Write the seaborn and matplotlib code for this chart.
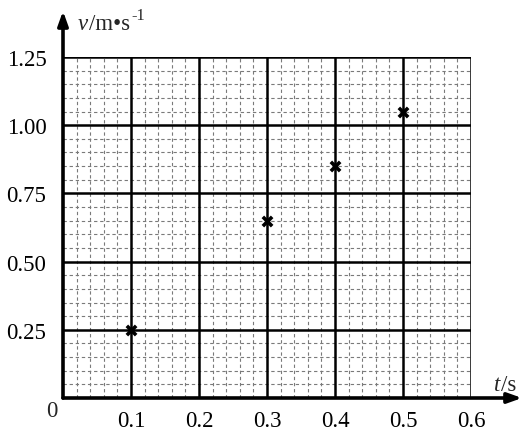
import matplotlib
matplotlib.use("Agg")
import matplotlib.pyplot as plt
import seaborn as sns
import numpy as np
import pandas as pd

t_values = [0.1, 0.3, 0.4, 0.5]
v_values = [0.25, 0.65, 0.85, 1.05]
x_ticks = [0.1, 0.2, 0.3, 0.4, 0.5, 0.6]
y_ticks = [0.25, 0.50, 0.75, 1.00, 1.25]
x_tick_labels = ["0.1", "0.2", "0.3", "0.4", "0.5", "0.6"]
y_tick_labels = ["0.25", "0.50", "0.75", "1.00", "1.25"]

sns.set_theme(style="white")
plt.rcParams['font.family'] = ['Liberation Serif', 'DejaVu Serif']

FS = 16.5
W, H = 527, 431
fig = plt.figure(figsize=(W / 100, H / 100), dpi=100)
x0, x1, y0, y1 = 63, 471, 58, 399
ax = fig.add_axes([x0 / W, (H - y1) / H, (x1 - x0) / W, (y1 - y0) / H])

xmax, ymax = 0.6, 1.25
ax.set_xlim(0, xmax)
ax.set_ylim(0, ymax)

# minor grid (dashed)
for i in range(1, 30):
    if i % 5 != 0:
        ax.axvline(i * 0.02, color='#7a7a7a', lw=0.8, ls=(0, (3, 2.5)), zorder=1)
for i in range(1, 25):
    if i % 5 != 0:
        ax.axhline(i * 0.05, color='#7a7a7a', lw=0.8, ls=(0, (3, 2.5)), zorder=1)
# major grid
for xv in x_ticks:
    ax.axvline(xv, color='black', lw=1.8, zorder=2)
for yv in y_ticks:
    ax.axhline(yv, color='black', lw=1.8, zorder=2)

for s in ['top', 'right', 'left', 'bottom']:
    ax.spines[s].set_visible(False)

df = pd.DataFrame({"t": t_values, "v": v_values})
sns.scatterplot(data=df, x="t", y="v", marker="x", s=45, color="black",
                linewidth=2.6, ax=ax, zorder=5, legend=False)

# axes arrows
px_x = xmax / (x1 - x0)
px_y = ymax / (y1 - y0)
ax.annotate("", xy=(xmax + (522 - x1) * px_x, 0), xytext=(0, 0),
            xycoords='data', textcoords='data', annotation_clip=False,
            arrowprops=dict(arrowstyle='-|>,head_length=0.7,head_width=0.25',
                            color='black', lw=2.6, shrinkA=0, shrinkB=0), zorder=6)
ax.annotate("", xy=(0, ymax + (y0 - 12) * px_y), xytext=(0, 0),
            xycoords='data', textcoords='data', annotation_clip=False,
            arrowprops=dict(arrowstyle='-|>,head_length=0.7,head_width=0.25',
                            color='black', lw=2.6, shrinkA=0, shrinkB=0), zorder=6)

ax.set_xticks(x_ticks)
ax.set_xticklabels(x_tick_labels)
ax.set_yticks(y_ticks)
ax.set_yticklabels(y_tick_labels)
ax.tick_params(axis='both', length=0, labelsize=FS, colors='black')
ax.tick_params(axis='x', pad=9)
ax.tick_params(axis='y', pad=12)
ax.set_xlabel("")
ax.set_ylabel("")

fig.text(52 / W, 1 - 412 / H, "0", fontsize=FS, ha='center', va='center')

# axis labels built from pieces
fig.canvas.draw()
r = fig.canvas.get_renderer()

def piece(x_px, base_px, s, style='normal', size=FS):
    t = fig.text(x_px / W, 1 - base_px / H, s, fontsize=size, style=style,
                 ha='left', va='baseline')
    bb = t.get_window_extent(renderer=r)
    return x_px + bb.width

xx = piece(78, 30, "v", style='italic')
xx = piece(xx + 1, 30, "/m•s")
piece(xx + 1, 20, "-1", size=FS * 0.72)

xx = piece(494, 391, "t", style='italic')
piece(xx + 1, 391, "/s")

fig.savefig("out.png", dpi=100)
